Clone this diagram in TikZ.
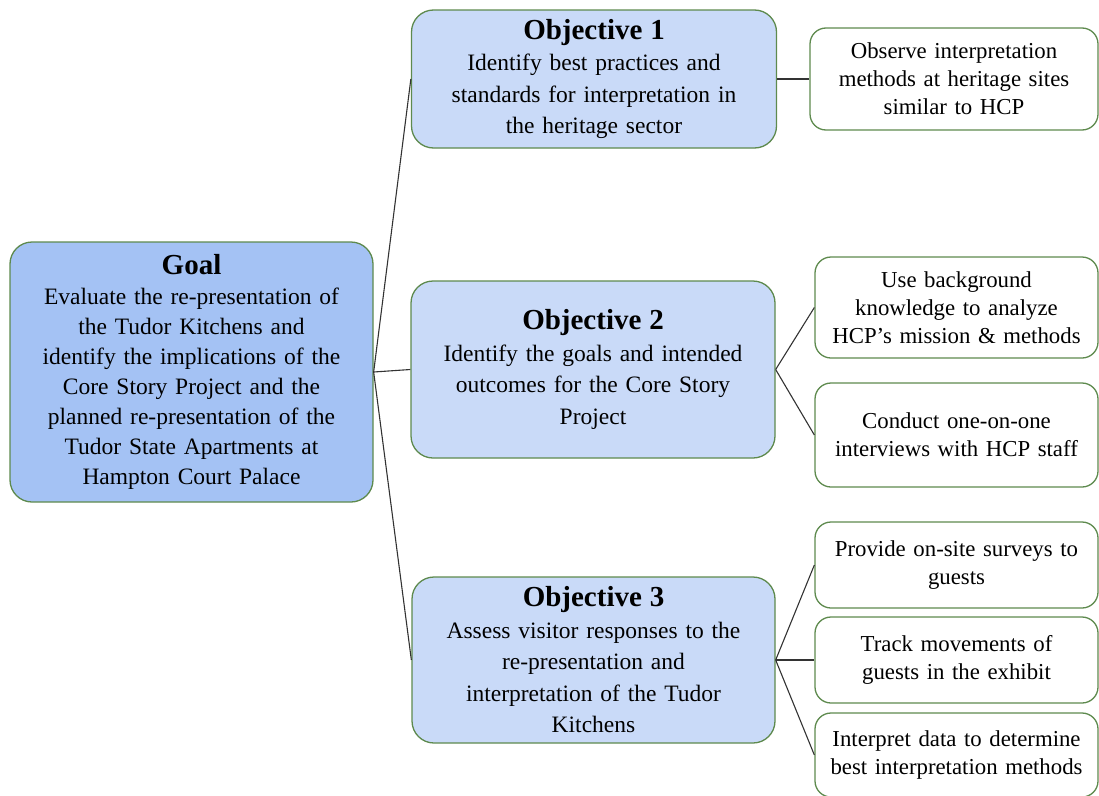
\documentclass[tikz,border=0pt]{standalone}
\usepackage{fontspec}
\setmainfont{Liberation Serif}
\definecolor{goalblue}{HTML}{A4C2F4}
\definecolor{objblue}{HTML}{C9DAF8}
\definecolor{boxgreen}{HTML}{5E8A4E}
\begin{document}
\begin{tikzpicture}[x=1pt,y=-1pt,
    box/.style={draw=boxgreen,line width=1.3pt,rounded corners=22pt,align=center,inner sep=0pt},
    goalbox/.style={box,fill=goalblue,text width=360pt,font=\fontsize{23.5}{30}\selectfont},
    objbox/.style={box,fill=objblue,text width=360pt,font=\fontsize{23.5}{31.5}\selectfont},
    taskbox/.style={box,fill=white,rounded corners=16pt,text width=282pt,font=\fontsize{22.8}{28}\selectfont},
    link/.style={line width=1.1pt,black!80}]
    \useasboundingbox (0,0) rectangle (1099,795);
    \node[goalbox,minimum width=363pt,minimum height=260pt] (goal) at (191.5,372)
      {{\fontsize{29}{32}\selectfont\bfseries Goal}\\Evaluate the re-presentation of\\the Tudor Kitchens and\\identify the implications of the\\Core Story Project and the\\planned re-presentation of the\\Tudor State Apartments at\\Hampton Court Palace};
    \node[objbox,minimum width=365pt,minimum height=138pt] (obj1) at (594,79)
      {{\fontsize{29}{33}\selectfont\bfseries Objective 1}\\Identify best practices and\\standards for interpretation in\\the heritage sector};
    \node[objbox,minimum width=364pt,minimum height=177pt] (obj2) at (593,369.5)
      {{\fontsize{29}{33}\selectfont\bfseries Objective 2}\\Identify the goals and intended\\outcomes for the Core Story\\Project};
    \node[objbox,minimum width=363pt,minimum height=166pt] (obj3) at (593.5,660)
      {{\fontsize{29}{33}\selectfont\bfseries Objective 3}\\Assess visitor responses to the\\re-presentation and\\interpretation of the Tudor\\Kitchens};
    \node[taskbox,minimum width=288pt,minimum height=102pt] (task1) at (954,79)
      {Observe interpretation\\methods at heritage sites\\similar to HCP};
    \node[taskbox,minimum width=283pt,minimum height=101pt] (task2) at (956.5,307.5)
      {Use background\\knowledge to analyze\\HCP's mission \& methods};
    \node[taskbox,minimum width=283pt,minimum height=104pt] (task3) at (956.5,435)
      {Conduct one-on-one\\interviews with HCP staff};
    \node[taskbox,minimum width=283pt,minimum height=86pt] (task4) at (956.5,565)
      {Provide on-site surveys to\\guests};
    \node[taskbox,minimum width=283pt,minimum height=86pt] (task5) at (956.5,660)
      {Track movements of\\guests in the exhibit};
    \node[taskbox,minimum width=283pt,minimum height=84pt] (task6) at (956.5,755)
      {Interpret data to determine\\best interpretation methods};
    \draw[link] (goal.east) -- (obj1.west);
    \draw[link] (goal.east) -- (obj2.west);
    \draw[link] (goal.east) -- (obj3.west);
    \draw[link] (obj1.east) -- (task1.west);
    \draw[link] (obj2.east) -- (task2.west);
    \draw[link] (obj2.east) -- (task3.west);
    \draw[link] (obj3.east) -- (task4.west);
    \draw[link] (obj3.east) -- (task5.west);
    \draw[link] (obj3.east) -- (task6.west);
\end{tikzpicture}
\end{document}
